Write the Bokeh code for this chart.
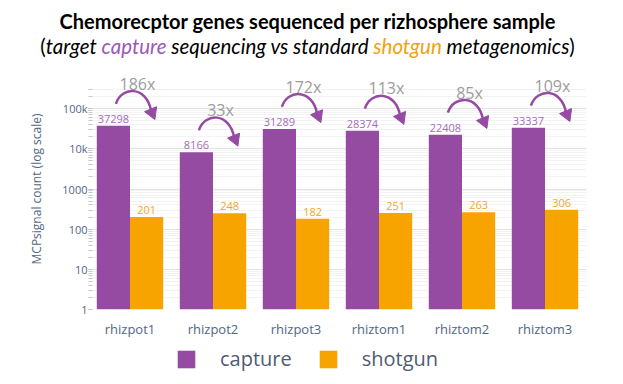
import numpy as np
from bokeh.plotting import figure
from bokeh.models import (ColumnDataSource, Legend, LegendItem, Div, FixedTicker,
                          Range1d, LogTicker)
from bokeh.layouts import column
from bokeh.core.properties import value
from bokeh.embed import file_html
from bokeh.resources import INLINE

samples = ["rhizpot1", "rhizpot2", "rhizpot3", "rhiztom1", "rhiztom2", "rhiztom3"]
capture = [37298, 8166, 31289, 28374, 22408, 33337]
shotgun = [201, 248, 182, 251, 263, 306]
folds = ["186x", "33x", "172x", "113x", "85x", "109x"]
ytick_vals = [1, 10, 100, 1000, 10000, 100000]
ytick_labels = ["1", "10", "100", "1000", "10k", "100k"]
series = ["capture", "shotgun"]

PURPLE = "#944BA1"
ORANGE = "#F7A400"
FONT = "Open Sans"

idx = np.arange(len(samples)) + 0.5
cap = np.array(capture, dtype=float)
sh = np.array(shotgun, dtype=float)

src_c = ColumnDataSource(dict(x=idx - 0.2, top=cap, lab=[str(v) for v in capture]))
src_s = ColumnDataSource(dict(x=idx + 0.2, top=sh, lab=[str(v) for v in shotgun]))

p = figure(width=615, height=272, output_backend="svg", toolbar_location=None,
           y_axis_type="log", x_range=Range1d(0, len(samples)),
           y_range=Range1d(1, 10 ** 6),
           min_border_left=88, min_border_right=29, min_border_top=0,
           min_border_bottom=30)
p.outline_line_color = None
p.background_fill_color = "white"

p.vbar(x="x", top="top", bottom=1, width=0.4, source=src_c,
       fill_color=PURPLE, line_color=None)
p.vbar(x="x", top="top", bottom=1, width=0.4, source=src_s,
       fill_color=ORANGE, line_color=None)

p.text(x="x", y="top", text="lab", source=src_c, text_align="center",
       text_baseline="bottom", y_offset=-3, text_font=value(FONT),
       text_font_size="11px", text_color="#a56cbb")
p.text(x="x", y="top", text="lab", source=src_s, text_align="center",
       text_baseline="bottom", y_offset=-3, text_font=value(FONT),
       text_font_size="11px", text_color="#f5a623")

# curved arrows + fold labels
arr = ColumnDataSource(dict(
    x0=idx - 0.17, y0=cap * 10 ** 0.55,
    cx0=idx - 0.10, cy0=cap * 10 ** 1.0,
    cx1=idx + 0.20, cy1=cap * 10 ** 1.0,
    x1=idx + 0.255, y1=cap * 10 ** 0.37,
    hx=idx + 0.265, hy=cap * 10 ** 0.33,
    fx=idx + 0.09, fy=cap * 10 ** 1.05, fl=folds))
p.bezier(x0="x0", y0="y0", x1="x1", y1="y1", cx0="cx0", cy0="cy0",
         cx1="cx1", cy1="cy1", source=arr, line_color=PURPLE, line_width=2.5)
p.scatter(x="hx", y="hy", source=arr, marker="triangle", size=13,
          angle=-2.75, fill_color=PURPLE, line_color=PURPLE)
p.text(x="fx", y="fy", text="fl", source=arr, text_align="center",
       text_baseline="middle", text_font=value(FONT), text_font_size="16px",
       text_color="#9c9c9c")

# axes
p.xaxis.ticker = FixedTicker(ticks=list(idx))
p.xaxis.major_label_overrides = {float(i): s for i, s in zip(idx, samples)}
p.xaxis.major_label_text_font = FONT
p.xaxis.major_label_text_font_size = "13px"
p.xaxis.major_label_text_color = "#506784"
p.xaxis.axis_line_color = None
p.xaxis.major_tick_line_color = None
p.xaxis.minor_tick_line_color = None
p.xaxis.major_label_standoff = 4

p.yaxis.ticker = LogTicker(num_minor_ticks=10)
p.yaxis.bounds = (1, 10 ** 5.5)
p.yaxis.major_label_overrides = {v: l for v, l in zip(ytick_vals, ytick_labels)}
p.yaxis.major_label_text_font = FONT
p.yaxis.major_label_text_font_size = "11px"
p.yaxis.major_label_text_color = "#506784"
p.yaxis.axis_line_color = None
p.yaxis.major_tick_in = 4
p.yaxis.major_tick_out = 0
p.yaxis.minor_tick_in = 4
p.yaxis.minor_tick_out = 0
p.yaxis.major_tick_line_color = "#c8c8c8"
p.yaxis.minor_tick_line_color = "#c8c8c8"
p.yaxis.major_label_standoff = 1
p.yaxis.axis_label = "MCPsignal count (log scale)"
p.yaxis.axis_label_text_font = FONT
p.yaxis.axis_label_text_font_style = "normal"
p.yaxis.axis_label_text_font_size = "12px"
p.yaxis.axis_label_text_color = "#506784"
p.yaxis.axis_label_standoff = 14

p.xgrid.grid_line_color = None
p.ygrid.bounds = (1, 10 ** 5.5)
p.ygrid.grid_line_color = "#e2e2e2"
p.ygrid.minor_grid_line_color = "#f3f3f3"

# legend strip (its frame is aligned with the main frame by the column layout)
lg = figure(width=615, height=44, output_backend="svg", toolbar_location=None,
            x_range=Range1d(0, 1), y_range=Range1d(0, 1),
            x_axis_location=None, y_axis_location=None, min_border=0)
lg.outline_line_color = None
lg.grid.grid_line_color = None
lr = [lg.vbar(x=[0.5], top=[0], bottom=[0], width=0.0, fill_color=c,
              line_color=None) for c in (PURPLE, ORANGE)]
legend = Legend(items=[LegendItem(label=s, renderers=[r]) for s, r in zip(series, lr)],
                orientation="horizontal", location=(87, 12),
                glyph_width=22, glyph_height=22, label_standoff=23,
                spacing=25, padding=0, margin=0, border_line_color=None,
                background_fill_alpha=0, label_text_font=FONT,
                label_text_font_size="20px", label_text_color="#4f5b73")
lg.add_layout(legend, "center")

title = Div(text=(
    '<div style="width:615px;text-align:center;font-family:Lato;color:#000;">'
    '<div style="font-weight:bold;font-size:20px;line-height:24px;margin-top:9px;">'
    'Chemorecptor genes sequenced per rizhosphere sample</div>'
    '<div style="font-size:20.5px;line-height:24px;margin-top:1px;">(<i>target '
    '<span style="color:#9b59b6;">capture</span> sequencing vs standard '
    '<span style="color:#f0a30a;">shotgun</span> metagenomics</i>)</div></div>'),
    width=615, height=68, margin=(0, 0, 0, 0))

layout = column(title, p, lg, spacing=0)
open("out.html", "w").write(file_html(layout, INLINE))
